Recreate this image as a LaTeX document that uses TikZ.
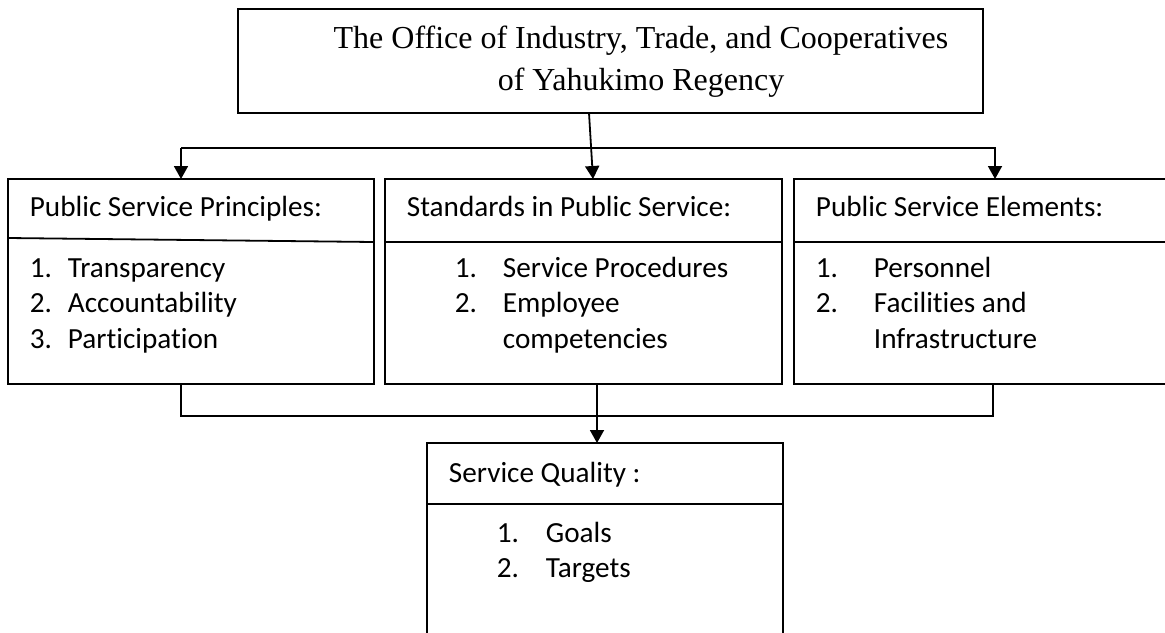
\documentclass[tikz,border=0pt]{standalone}
\usepackage{fontspec}
\setmainfont{Liberation Serif}
\newfontfamily\calibri[Ligatures = NoCommon]{Carlito}
\usetikzlibrary{arrows.meta}
\tikzset{%
	block/.style    = {draw, rectangle, inner sep = 0pt, outer sep = 0pt, minimum height = 102.5pt}, % Box
	title/.style    = {anchor = base, inner sep = 0pt, font = \fontsize{16}{20}\selectfont}, % Serif heading
	head/.style     = {anchor = base west, inner sep = 0pt, font = \calibri\fontsize{14.6}{17.5}\selectfont}, % Box heading
	item/.style     = {head}, % List entry
	junction/.style = {coordinate} % Branch point
}

\begin{document}
\begin{tikzpicture}[x = 0.5pt, y = -0.5pt, line width = 0.9pt, >={Triangle[width = 7pt, length = 6.5pt]}]
	\useasboundingbox (0, 0) rectangle (1165, 632);
	\draw % Drawing the boxes
	node at (610.5, 61) [block, minimum width = 372.5pt, minimum height = 52pt] (office) {}
	node at (641, 48) [title] (officeA) {The Office of Industry, Trade, and Cooperatives}
	node at (641, 90) [title] (officeB) {of Yahukimo Regency}
	node at (191, 281.5) [block, minimum width = 183pt] (principles) {}
	node at (583.5, 281.5) [block, minimum width = 198.5pt] (standards) {}
	node at (984.5, 281.5) [block, minimum width = 190.5pt] (elements) {}
	node at (605, 546.5) [block, minimum width = 178pt, minimum height = 103.5pt] (quality) {}
	node at (181, 148) [junction] (lsplit) {}
	node at (995, 148) [junction] (rsplit) {}
	node at (181, 416) [junction] (ljoin) {}
	node at (597, 416) [junction] (mjoin) {}
	node at (993, 416) [junction] (rjoin) {}
	;
	
	% Drawing the texts
	\draw
	node at (29, 216) [head] (princHead) {Public Service Principles:}
	node at (29, 277) [item] (princN1) {1.}
	node at (67, 277) [item] (princ1) {Transparency}
	node at (29, 312) [item] (princN2) {2.}
	node at (67, 312) [item] (princ2) {Accountability}
	node at (29, 348) [item] (princN3) {3.}
	node at (67, 348) [item] (princ3) {Participation}
	node at (406, 216) [head] (stdHead) {Standards in Public Service:}
	node at (454, 277) [item] (stdN1) {1.}
	node at (502, 277) [item] (std1) {Service Procedures}
	node at (454, 312) [item] (stdN2) {2.}
	node at (502, 312) [item] (std2) {Employee}
	node at (502, 348) [item] (std2b) {competencies}
	node at (815, 216) [head] (elemHead) {Public Service Elements:}
	node at (815, 277) [item] (elemN1) {1.}
	node at (873, 277) [item] (elem1) {Personnel}
	node at (815, 312) [item] (elemN2) {2.}
	node at (873, 312) [item] (elem2) {Facilities and}
	node at (873, 348) [item] (elem2b) {Infrastructure}
	node at (448, 482) [head] (qualHead) {Service Quality :}
	node at (496, 542) [item] (qualN1) {1.}
	node at (545, 542) [item] (qual1) {Goals}
	node at (496, 577) [item] (qualN2) {2.}
	node at (545, 577) [item] (qual2) {Targets}
	;
	
	% Drawing the separators
	\draw (principles.west |- 0, 238) -- (principles.east |- 0, 242);
	\draw (standards.west |- 0, 242) -- (standards.east |- 0, 242);
	\draw (elements.west |- 0, 242) -- (elements.east |- 0, 242);
	\draw (quality.west |- 0, 504) -- (quality.east |- 0, 504);
	
	% Drawing the arrows
	\draw[->] ([xshift = -10.75pt]office.south) -- ([xshift = 4.75pt]standards.north);
	\draw[->] (lsplit) -- (lsplit |- principles.north);
	\draw[->] (lsplit) -- (rsplit) -- (rsplit |- elements.north);
	\draw (principles.south -| ljoin) -- (ljoin) -- (rjoin) -- (elements.south -| rjoin);
	\draw[->] (standards.south -| mjoin) -- (quality.north -| mjoin);
\end{tikzpicture}
\end{document}
